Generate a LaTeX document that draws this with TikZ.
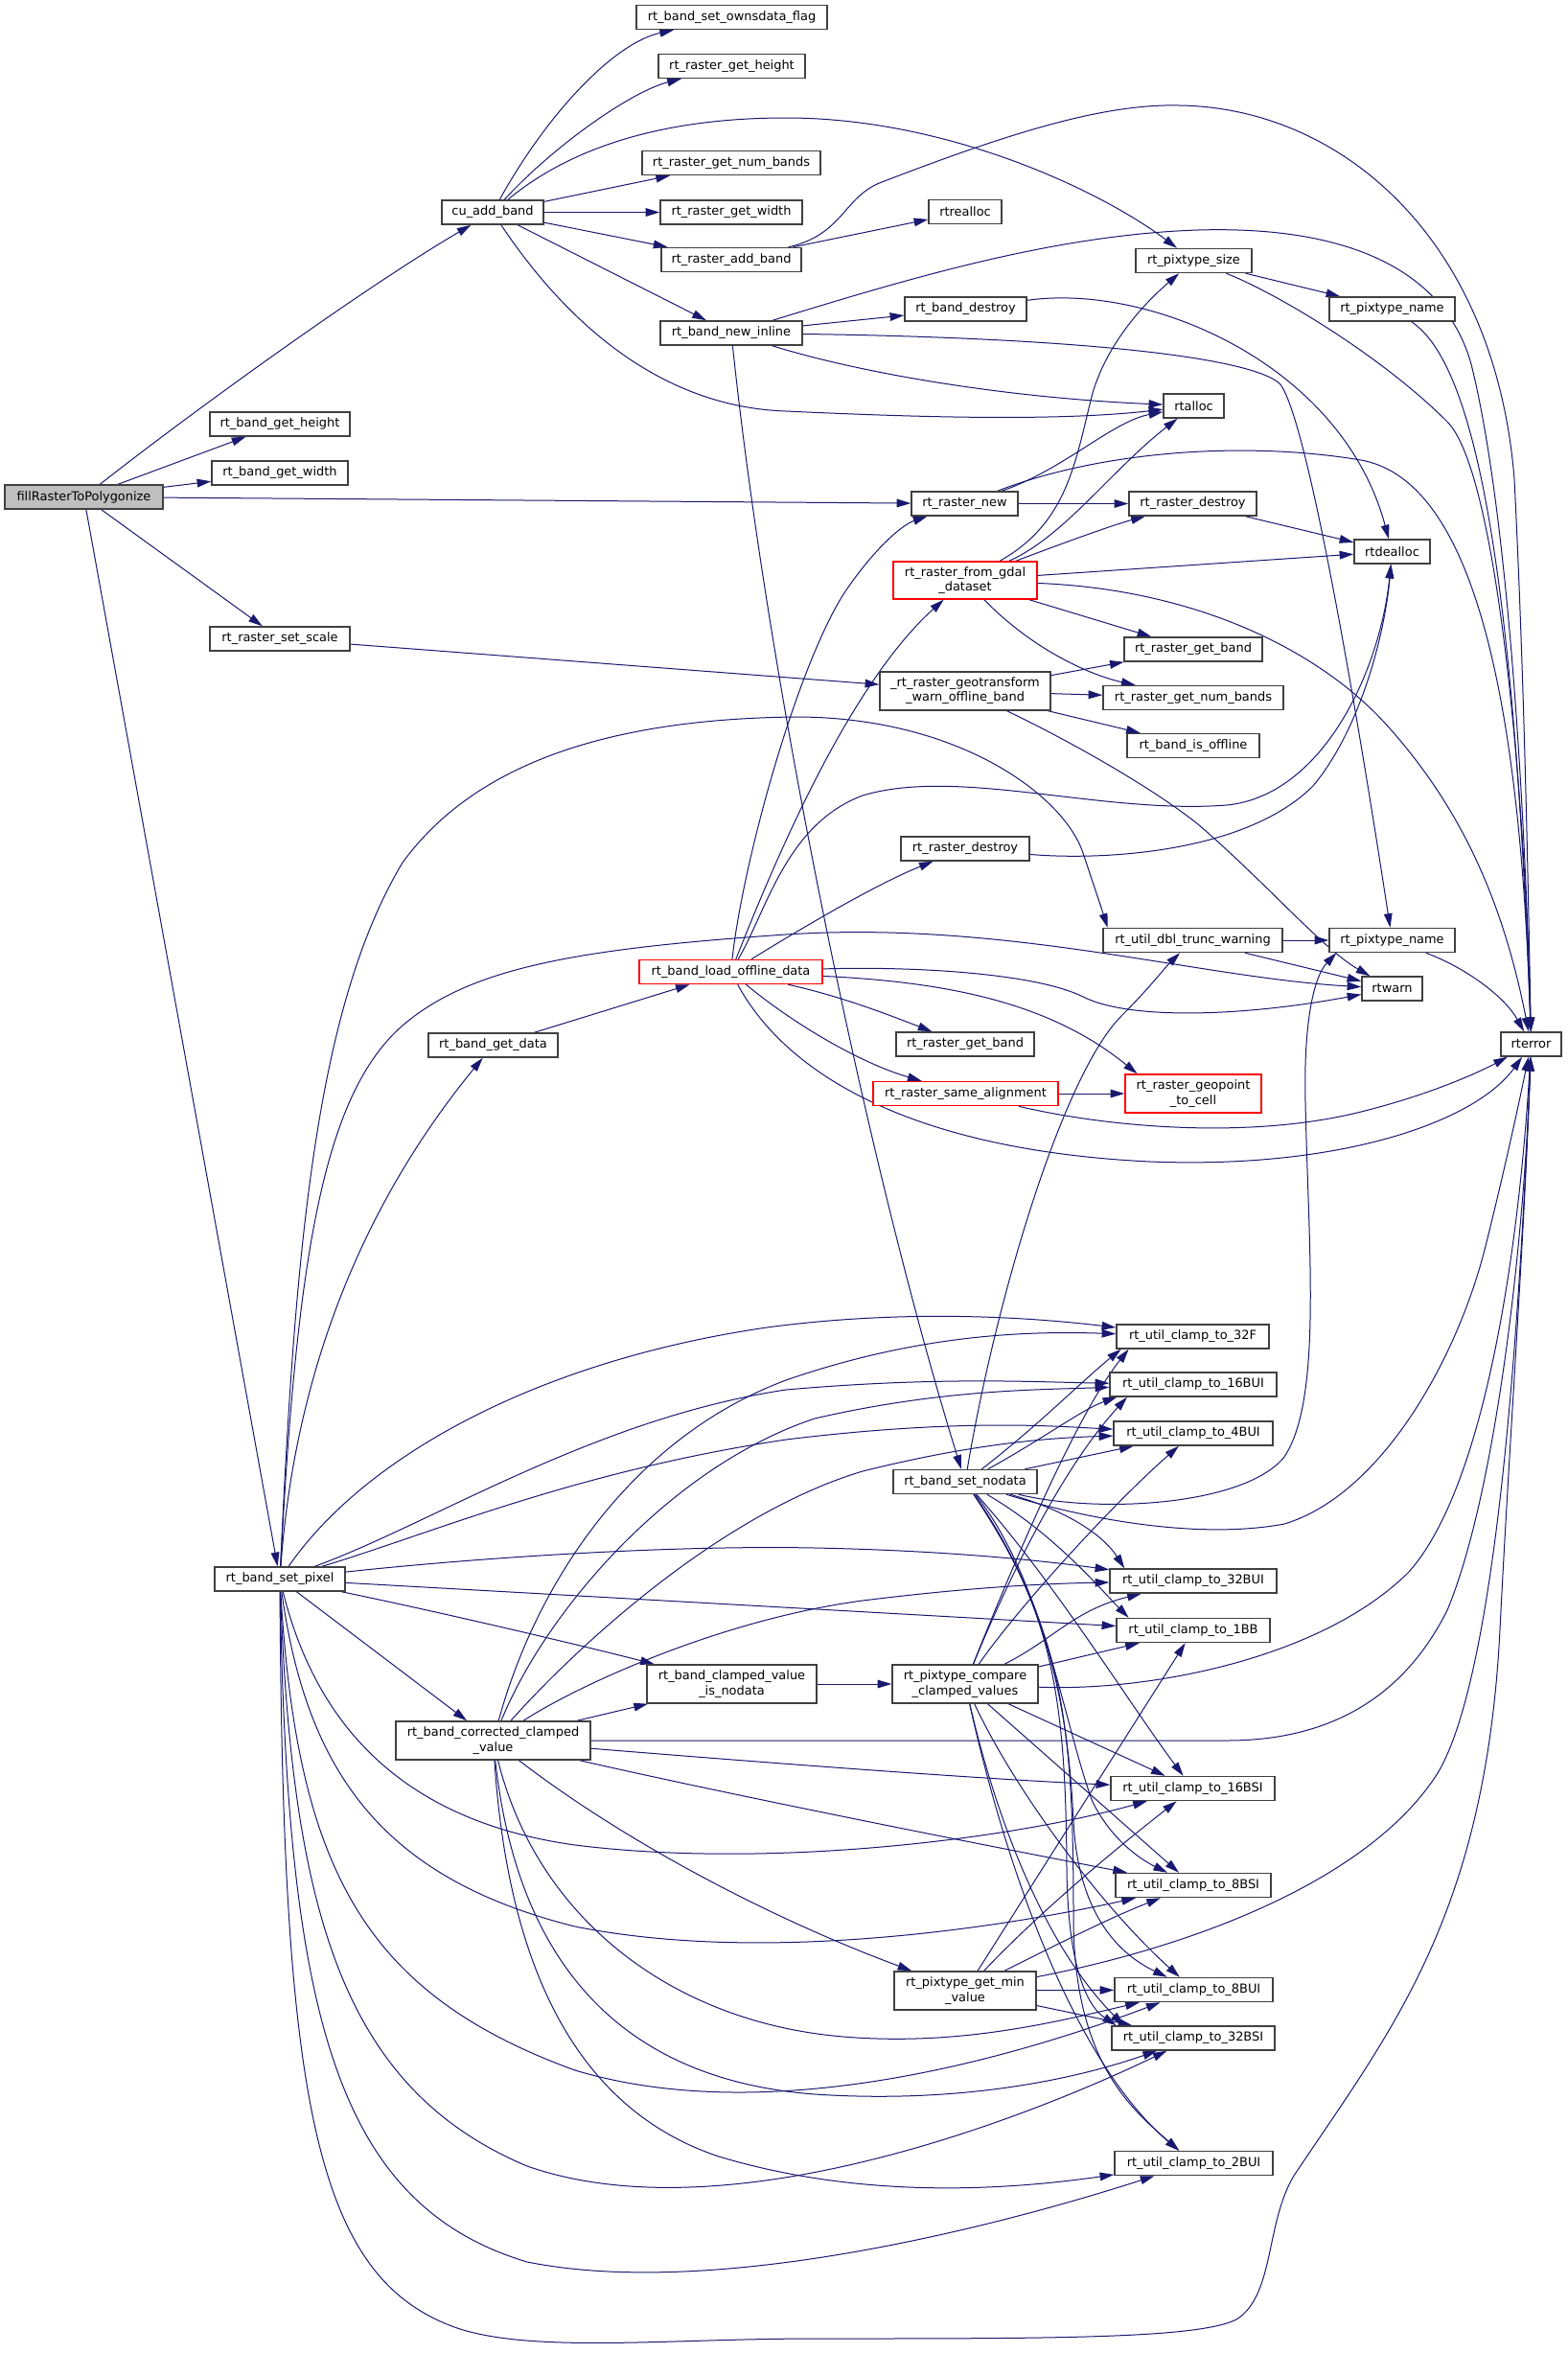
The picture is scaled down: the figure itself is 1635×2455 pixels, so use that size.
\documentclass[tikz,border=0pt]{standalone}
\usepackage{fontspec}
\setmainfont{DejaVu Sans}
\usetikzlibrary{arrows.meta}
\definecolor{edgecol}{RGB}{25,25,112}
\definecolor{bordcol}{RGB}{64,64,64}
\definecolor{nodegray}{RGB}{191,191,191}
\pgfdeclarelayer{bg}
\pgfdeclarelayer{edges}
\pgfsetlayers{bg,edges,main}
\tikzset{
 box/.style={draw=bordcol, fill=white, line width=1.1pt, inner sep=0pt, align=center, font=\fontsize{9.7}{11.4}\selectfont},
 redbox/.style={draw=red},
 ed/.style={draw=edgecol, line width=0.75pt, -{Triangle[length=11pt,width=6.5pt]}},
}
\newcommand\bx[6][]{\node[box,#1,minimum width=#4*0.75pt,minimum height=#5*0.75pt] (#2) at (#3) {#6};}
\begin{document}
\begin{tikzpicture}[x=0.75pt,y=-0.75pt]
\begin{pgfonlayer}{bg}
\fill[white] (0,0) rectangle (1635,2455);
\end{pgfonlayer}
\useasboundingbox (0,0) rectangle (1635,2455);
% nodes
\bx[fill=nodegray]{frp}{87.5,518.5}{165}{25}{fillRasterToPolygonize}
\bx{cuadd}{514,221.5}{106}{25}{cu\_add\_band}
\bx{ownsdata}{763.5,18}{199}{25}{rt\_band\_set\_ownsdata\_flag}
\bx{rgetheight}{763.5,69}{153}{25}{rt\_raster\_get\_height}
\bx{rnumbandsA}{763,170}{186}{25}{rt\_raster\_get\_num\_bands}
\bx{rgetwidth}{763,221.5}{148}{25}{rt\_raster\_get\_width}
\bx{raddband}{763,271}{146}{25}{rt\_raster\_add\_band}
\bx{bnewinline}{763,347.5}{148}{25}{rt\_band\_new\_inline}
\bx{bgetheight}{292,442.5}{146}{25}{rt\_band\_get\_height}
\bx{bgetwidth}{292,493.5}{142}{25}{rt\_band\_get\_width}
\bx{rsetscale}{292,666.5}{146}{25}{rt\_raster\_set\_scale}
\bx{rtrealloc}{1007,221}{76}{25}{rtrealloc}
\bx{pixsize}{1245.5,272}{121}{25}{rt\_pixtype\_size}
\bx{bdestroy}{1007.5,322.5}{127}{25}{rt\_band\_destroy}
\bx{pixnameA}{1452.5,322.5}{131}{25}{rt\_pixtype\_name}
\bx{rtalloc}{1245.5,423.5}{63}{25}{rtalloc}
\bx{rnew}{1006.5,525.5}{111}{25}{rt\_raster\_new}
\bx{rdestroyA}{1244.5,525.5}{133}{25}{rt\_raster\_destroy}
\bx{rtdealloc}{1452.5,575.5}{79}{25}{rtdealloc}
\bx[redbox]{fromgdal}{1007,605.5}{150}{39}{rt\_raster\_from\_gdal\\\_dataset}
\bx{rgetbandA}{1245,677.5}{144}{25}{rt\_raster\_get\_band}
\bx{geotrans}{1007,721}{178}{40}{\_rt\_raster\_geotransform\\\_warn\_offline\_band}
\bx{rnumbandsB}{1245,728}{188}{25}{rt\_raster\_get\_num\_bands}
\bx{isoffline}{1245,778}{138}{25}{rt\_band\_is\_offline}
\bx{rdestroyB}{1007,885.5}{134}{25}{rt\_raster\_destroy}
\bx{dbltrunc}{1244.5,981}{187}{25}{rt\_util\_dbl\_trunc\_warning}
\bx{pixnameB}{1452.5,981}{131}{25}{rt\_pixtype\_name}
\bx[redbox]{loadoffline}{762.5,1014}{191}{25}{rt\_band\_load\_offline\_data}
\bx{rtwarn}{1452.5,1031.5}{63}{25}{rtwarn}
\bx{rterror}{1597.5,1089.5}{63}{25}{rterror}
\bx{bgetdata}{514.5,1090.5}{135}{25}{rt\_band\_get\_data}
\bx{rgetbandB}{1007,1089.5}{144}{25}{rt\_raster\_get\_band}
\bx[redbox]{samealign}{1007.5,1141}{193}{25}{rt\_raster\_same\_alignment}
\bx[redbox]{geopoint}{1245,1141}{142}{40}{rt\_raster\_geopoint\\\_to\_cell}
\bx{c32F}{1244.5,1394.5}{159}{25}{rt\_util\_clamp\_to\_32F}
\bx{c16BUI}{1245,1444.5}{174}{25}{rt\_util\_clamp\_to\_16BUI}
\bx{c4BUI}{1245,1495.5}{166}{25}{rt\_util\_clamp\_to\_4BUI}
\bx{setnodata}{1007,1546}{150}{25}{rt\_band\_set\_nodata}
\bx{setpixel}{292,1647.5}{136}{25}{rt\_band\_set\_pixel}
\bx{c32BUI}{1245,1649.5}{174}{25}{rt\_util\_clamp\_to\_32BUI}
\bx{c1BB}{1245,1701}{160}{25}{rt\_util\_clamp\_to\_1BB}
\bx{compare}{1007,1757}{152}{40}{rt\_pixtype\_compare\\\_clamped\_values}
\bx{isnodata}{763.5,1757}{177}{40}{rt\_band\_clamped\_value\\\_is\_nodata}
\bx{corrected}{514.5,1816}{203}{40}{rt\_band\_corrected\_clamped\\\_value}
\bx{c16BSI}{1244.5,1866}{171}{25}{rt\_util\_clamp\_to\_16BSI}
\bx{c8BSI}{1245,1967}{162}{25}{rt\_util\_clamp\_to\_8BSI}
\bx{getmin}{1007,2077}{148}{40}{rt\_pixtype\_get\_min\\\_value}
\bx{c8BUI}{1245.5,2076}{165}{25}{rt\_util\_clamp\_to\_8BUI}
\bx{c32BSI}{1245,2126.5}{170}{25}{rt\_util\_clamp\_to\_32BSI}
\bx{c2BUI}{1245.5,2257}{165}{25}{rt\_util\_clamp\_to\_2BUI}
% edges
\begin{pgfonlayer}{edges}
% fillRasterToPolygonize
\draw[ed] (frp) .. controls (200,430) and (380,300) .. (cuadd);
\draw[ed] (frp) -- (bgetheight);
\draw[ed] (frp) -- (bgetwidth);
\draw[ed] (frp) -- (rnew);
\draw[ed] (frp) -- (rsetscale);
\draw[ed] (frp) -- (setpixel);
% cu_add_band
\draw[ed] (cuadd) .. controls (570,120) and (640,45) .. (ownsdata);
\draw[ed] (cuadd) .. controls (580,150) and (660,95) .. (rgetheight);
\draw[ed] (cuadd) .. controls (600,150) and (700,123) .. (820,123) .. controls (990,123) and (1150,200) .. (pixsize);
\draw[ed] (cuadd) -- (rnumbandsA);
\draw[ed] (cuadd) -- (rgetwidth);
\draw[ed] (cuadd) -- (raddband);
\draw[ed] (cuadd) -- (bnewinline);
\draw[ed] (cuadd) .. controls (600,350) and (700,425) .. (820,429) .. controls (950,435) and (1100,440) .. (rtalloc);
% rt_raster_add_band
\draw[ed] (raddband) -- (rtrealloc);
\draw[ed] (raddband) .. controls (880,245) and (880,205) .. (920,190) .. controls (1050,140) and (1150,108) .. (1230,110) .. controls (1400,112) and (1560,250) .. (1580,500) .. controls (1590,700) and (1594,900) .. (rterror);
% rt_band_new_inline
\draw[ed] (bnewinline) -- (bdestroy);
\draw[ed] (bnewinline) .. controls (900,390) and (1050,415) .. (rtalloc);
\draw[ed] (bnewinline) .. controls (1100,352) and (1300,370) .. (1335,400) .. controls (1370,440) and (1440,900) .. (pixnameB);
\draw[ed] (bnewinline) .. controls (950,290) and (1100,245) .. (1250,240) .. controls (1420,235) and (1510,290) .. (1535,380) .. controls (1570,520) and (1590,800) .. (rterror);
\draw[ed] (bnewinline) .. controls (800,700) and (900,1200) .. (setnodata);
% others top
\draw[ed] (bdestroy) .. controls (1200,295) and (1400,380) .. (rtdealloc);
\draw[ed] (pixsize) -- (pixnameA);
\draw[ed] (pixsize) .. controls (1330,305) and (1440,370) .. (1510,440) .. controls (1560,490) and (1590,800) .. (rterror);
\draw[ed] (pixnameA) .. controls (1540,380) and (1580,600) .. (rterror);
\draw[ed] (rnew) .. controls (1110,490) and (1160,440) .. (rtalloc);
\draw[ed] (rnew) -- (rdestroyA);
\draw[ed] (rnew) .. controls (1150,470) and (1300,460) .. (1420,480) .. controls (1530,500) and (1585,700) .. (rterror);
\draw[ed] (rdestroyA) -- (rtdealloc);
% rt_raster_from_gdal_dataset
\draw[ed] (fromgdal) .. controls (1115,545) and (1122,480) .. (1140,410) .. controls (1155,360) and (1190,320) .. (pixsize);
\draw[ed] (fromgdal) .. controls (1110,560) and (1160,490) .. (rtalloc);
\draw[ed] (fromgdal) .. controls (1100,570) and (1160,548) .. (rdestroyA);
\draw[ed] (fromgdal) -- (rtdealloc);
\draw[ed] (fromgdal) .. controls (1250,615) and (1380,680) .. (1450,760) .. controls (1530,850) and (1570,950) .. (rterror);
\draw[ed] (fromgdal) -- (rgetbandA);
\draw[ed] (fromgdal) .. controls (1080,680) and (1140,705) .. (rnumbandsB);
% set scale / geotransform
\draw[ed] (rsetscale) -- (geotrans);
\draw[ed] (geotrans) -- (rgetbandA);
\draw[ed] (geotrans) -- (rnumbandsB);
\draw[ed] (geotrans) -- (isoffline);
\draw[ed] (geotrans) .. controls (1110,770) and (1200,820) .. (1250,860) .. controls (1320,920) and (1380,990) .. (rtwarn);
% rt_band_load_offline_data
\draw[ed] (bgetdata) -- (loadoffline);
\draw[ed] (loadoffline) .. controls (775,900) and (830,700) .. (880,620) .. controls (910,575) and (940,548) .. (rnew);
\draw[ed] (loadoffline) .. controls (800,920) and (880,720) .. (fromgdal);
\draw[ed] (loadoffline) .. controls (800,950) and (820,860) .. (900,830) .. controls (1000,800) and (1150,850) .. (1280,840) .. controls (1380,830) and (1440,700) .. (rtdealloc);
\draw[ed] (loadoffline) .. controls (850,960) and (920,920) .. (rdestroyB);
\draw[ed] (rdestroyB) .. controls (1150,898) and (1300,890) .. (1370,820) .. controls (1420,760) and (1445,660) .. (rtdealloc);
\draw[ed] (loadoffline) .. controls (950,1008) and (1080,1015) .. (1130,1040) .. controls (1180,1065) and (1300,1060) .. (rtwarn);
\draw[ed] (loadoffline) .. controls (1000,1025) and (1100,1050) .. ([xshift=10pt]geopoint.north west);
\draw[ed] (loadoffline) .. controls (880,1040) and (930,1060) .. (rgetbandB);
\draw[ed] (loadoffline) .. controls (830,1070) and (900,1110) .. (samealign);
\draw[ed] (loadoffline) .. controls (820,1120) and (950,1200) .. (1200,1212) .. controls (1400,1220) and (1540,1170) .. (rterror);
\draw[ed] (samealign) -- (geopoint);
\draw[ed] (samealign) .. controls (1150,1175) and (1300,1190) .. (1420,1160) .. controls (1500,1140) and (1550,1115) .. (rterror);
\draw[ed] (dbltrunc) -- (pixnameB);
\draw[ed] (dbltrunc) -- (rtwarn);
\draw[ed] (pixnameB) .. controls (1530,1010) and (1570,1040) .. (rterror);
% rt_band_set_pixel
\draw[ed] (setpixel) .. controls (310,1400) and (400,1230) .. (bgetdata);
\draw[ed] (setpixel) .. controls (308,1300) and (330,1050) .. (420,900) .. controls (500,790) and (650,750) .. (830,748) .. controls (1000,748) and (1110,830) .. (1130,890) .. controls (1140,920) and (1150,950) .. ([xshift=4pt]dbltrunc.north west);
\draw[ed] (setpixel) .. controls (310,1300) and (340,1140) .. (420,1070) .. controls (490,1010) and (600,990) .. (820,975) .. controls (1050,960) and (1250,1020) .. (rtwarn);
\draw[ed] (setpixel) .. controls (380,1520) and (560,1420) .. (800,1385) .. controls (950,1365) and (1080,1375) .. (c32F);
\draw[ed] (setpixel) .. controls (450,1590) and (620,1480) .. (820,1450) .. controls (980,1436) and (1080,1442) .. (c16BUI);
\draw[ed] (setpixel) .. controls (450,1600) and (600,1535) .. (820,1502) .. controls (1000,1480) and (1100,1488) .. (c4BUI);
\draw[ed] (setpixel) .. controls (500,1625) and (700,1612) .. (850,1615) .. controls (1000,1618) and (1100,1630) .. (c32BUI);
\draw[ed] (setpixel) -- (c1BB);
\draw[ed] (setpixel) -- (corrected);
\draw[ed] (setpixel) .. controls (450,1680) and (600,1715) .. (isnodata);
\draw[ed] (setpixel) .. controls (330,1800) and (420,1900) .. (600,1925) .. controls (800,1950) and (1050,1920) .. (c16BSI);
\draw[ed] (setpixel) .. controls (320,1850) and (400,1960) .. (600,2010) .. controls (800,2050) and (1050,2010) .. (c8BSI);
\draw[ed] (setpixel) .. controls (310,1950) and (380,2080) .. (600,2160) .. controls (800,2220) and (1050,2150) .. (c8BUI);
\draw[ed] (setpixel) .. controls (305,2000) and (360,2180) .. (550,2260) .. controls (750,2330) and (1050,2220) .. (c32BSI);
\draw[ed] (setpixel) .. controls (300,2100) and (350,2300) .. (550,2360) .. controls (750,2400) and (1050,2320) .. (c2BUI);
\draw[ed] (setpixel) .. controls (295,2200) and (330,2380) .. (480,2430) .. controls (560,2455) and (700,2440) .. (850,2440) .. controls (1100,2440) and (1250,2440) .. (1290,2420) .. controls (1330,2395) and (1320,2320) .. (1350,2270) .. controls (1450,2120) and (1550,2000) .. (1565,1700) .. controls (1575,1500) and (1590,1300) .. (rterror);
% rt_band_corrected_clamped_value
\draw[ed] (corrected) -- (isnodata);
\draw[ed] (corrected) -- (1280,1816) .. controls (1400,1816) and (1470,1760) .. (1510,1680) .. controls (1560,1560) and (1590,1300) .. (rterror);
\draw[ed] (corrected) .. controls (560,1650) and (660,1500) .. (820,1440) .. controls (950,1395) and (1060,1388) .. (c32F);
\draw[ed] (corrected) .. controls (570,1680) and (700,1530) .. (850,1480) .. controls (980,1450) and (1080,1450) .. (c16BUI);
\draw[ed] (corrected) .. controls (600,1720) and (750,1580) .. (900,1535) .. controls (1020,1505) and (1100,1500) .. (c4BUI);
\draw[ed] (corrected) .. controls (600,1760) and (750,1690) .. (900,1670) .. controls (1020,1655) and (1100,1652) .. (c32BUI);
\draw[ed] (corrected) .. controls (750,1835) and (1000,1855) .. (c16BSI);
\draw[ed] (corrected) .. controls (750,1870) and (1000,1920) .. (c8BSI);
\draw[ed] (corrected) .. controls (650,1920) and (800,2000) .. (getmin);
\draw[ed] (corrected) .. controls (560,2000) and (700,2110) .. (880,2125) .. controls (1000,2135) and (1100,2110) .. (c8BUI);
\draw[ed] (corrected) .. controls (540,2050) and (650,2170) .. (850,2185) .. controls (1000,2195) and (1120,2170) .. (c32BSI);
\draw[ed] (corrected) .. controls (530,2050) and (600,2200) .. (750,2250) .. controls (900,2295) and (1050,2285) .. (c2BUI);
\draw[ed] (isnodata) -- (compare);
% rt_pixtype_compare_clamped_values
\draw[ed] (compare) .. controls (1050,1650) and (1120,1480) .. ([xshift=10pt]c32F.south west);
\draw[ed] (compare) .. controls (1055,1640) and (1110,1530) .. ([xshift=14pt]c16BUI.south west);
\draw[ed] (compare) .. controls (1060,1680) and (1160,1570) .. (c4BUI);
\draw[ed] (compare) .. controls (1100,1710) and (1120,1680) .. (c32BUI);
\draw[ed] (compare) -- (c1BB);
\draw[ed] (compare) .. controls (1200,1765) and (1380,1730) .. (1470,1640) .. controls (1550,1550) and (1585,1300) .. (rterror);
\draw[ed] (compare) -- (c16BSI);
\draw[ed] (compare) -- (c8BSI);
\draw[ed] (compare) .. controls (1060,1870) and (1150,1990) .. (c8BUI);
\draw[ed] (compare) .. controls (1040,1900) and (1090,2030) .. ([xshift=10pt]c32BSI.north west);
\draw[ed] (compare) .. controls (1050,1950) and (1120,2150) .. (c2BUI);
% rt_pixtype_get_min_value
\draw[ed] (getmin) -- (c1BB);
\draw[ed] (getmin) .. controls (1080,2000) and (1150,1940) .. (c16BSI);
\draw[ed] (getmin) .. controls (1100,2030) and (1160,2000) .. (c8BSI);
\draw[ed] (getmin) .. controls (1250,2030) and (1430,1960) .. (1500,1850) .. controls (1560,1750) and (1585,1400) .. (rterror);
\draw[ed] (getmin) -- (c8BUI);
\draw[ed] (getmin) -- (c32BSI);
% rt_band_set_nodata
\draw[ed] (setnodata) .. controls (1080,1490) and (1130,1440) .. ([xshift=4pt]c32F.south west);
\draw[ed] (setnodata) .. controls (1090,1500) and (1130,1470) .. ([xshift=6pt]c16BUI.south west);
\draw[ed] (setnodata) -- (c4BUI);
\draw[ed] (setnodata) .. controls (1040,1350) and (1110,1120) .. (1170,1060) .. controls (1200,1030) and (1215,1010) .. (dbltrunc);
\draw[ed] (setnodata) .. controls (1150,1580) and (1300,1570) .. (1340,1520) .. controls (1380,1460) and (1365,1300) .. (1362,1150) .. controls (1360,1070) and (1370,1020) .. ([xshift=6pt]pixnameB.south west);
\draw[ed] (setnodata) .. controls (1150,1590) and (1260,1605) .. (1340,1590) .. controls (1440,1560) and (1520,1420) .. (1550,1300) .. controls (1570,1220) and (1585,1150) .. (rterror);
\draw[ed] (setnodata) .. controls (1110,1575) and (1150,1600) .. ([xshift=12pt]c32BUI.north west);
\draw[ed] (setnodata) .. controls (1100,1600) and (1150,1660) .. ([xshift=10pt]c1BB.north west);
\draw[ed] (setnodata) .. controls (1100,1650) and (1180,1780) .. (c16BSI);
\draw[ed] (setnodata) .. controls (1090,1650) and (1110,1800) .. (1140,1880) .. controls (1160,1920) and (1190,1940) .. (c8BSI);
\draw[ed] (setnodata) .. controls (1100,1680) and (1115,1800) .. (1120,1900) .. controls (1125,2000) and (1170,2040) .. (c8BUI);
\draw[ed] (setnodata) .. controls (1100,1680) and (1112,1780) .. (1113,1950) .. controls (1114,2040) and (1130,2090) .. ([xshift=4pt]c32BSI.north west);
\draw[ed] (setnodata) .. controls (1110,1700) and (1120,1800) .. (1120,2000) .. controls (1120,2150) and (1180,2200) .. (c2BUI);
\end{pgfonlayer}
\end{tikzpicture}
\end{document}
